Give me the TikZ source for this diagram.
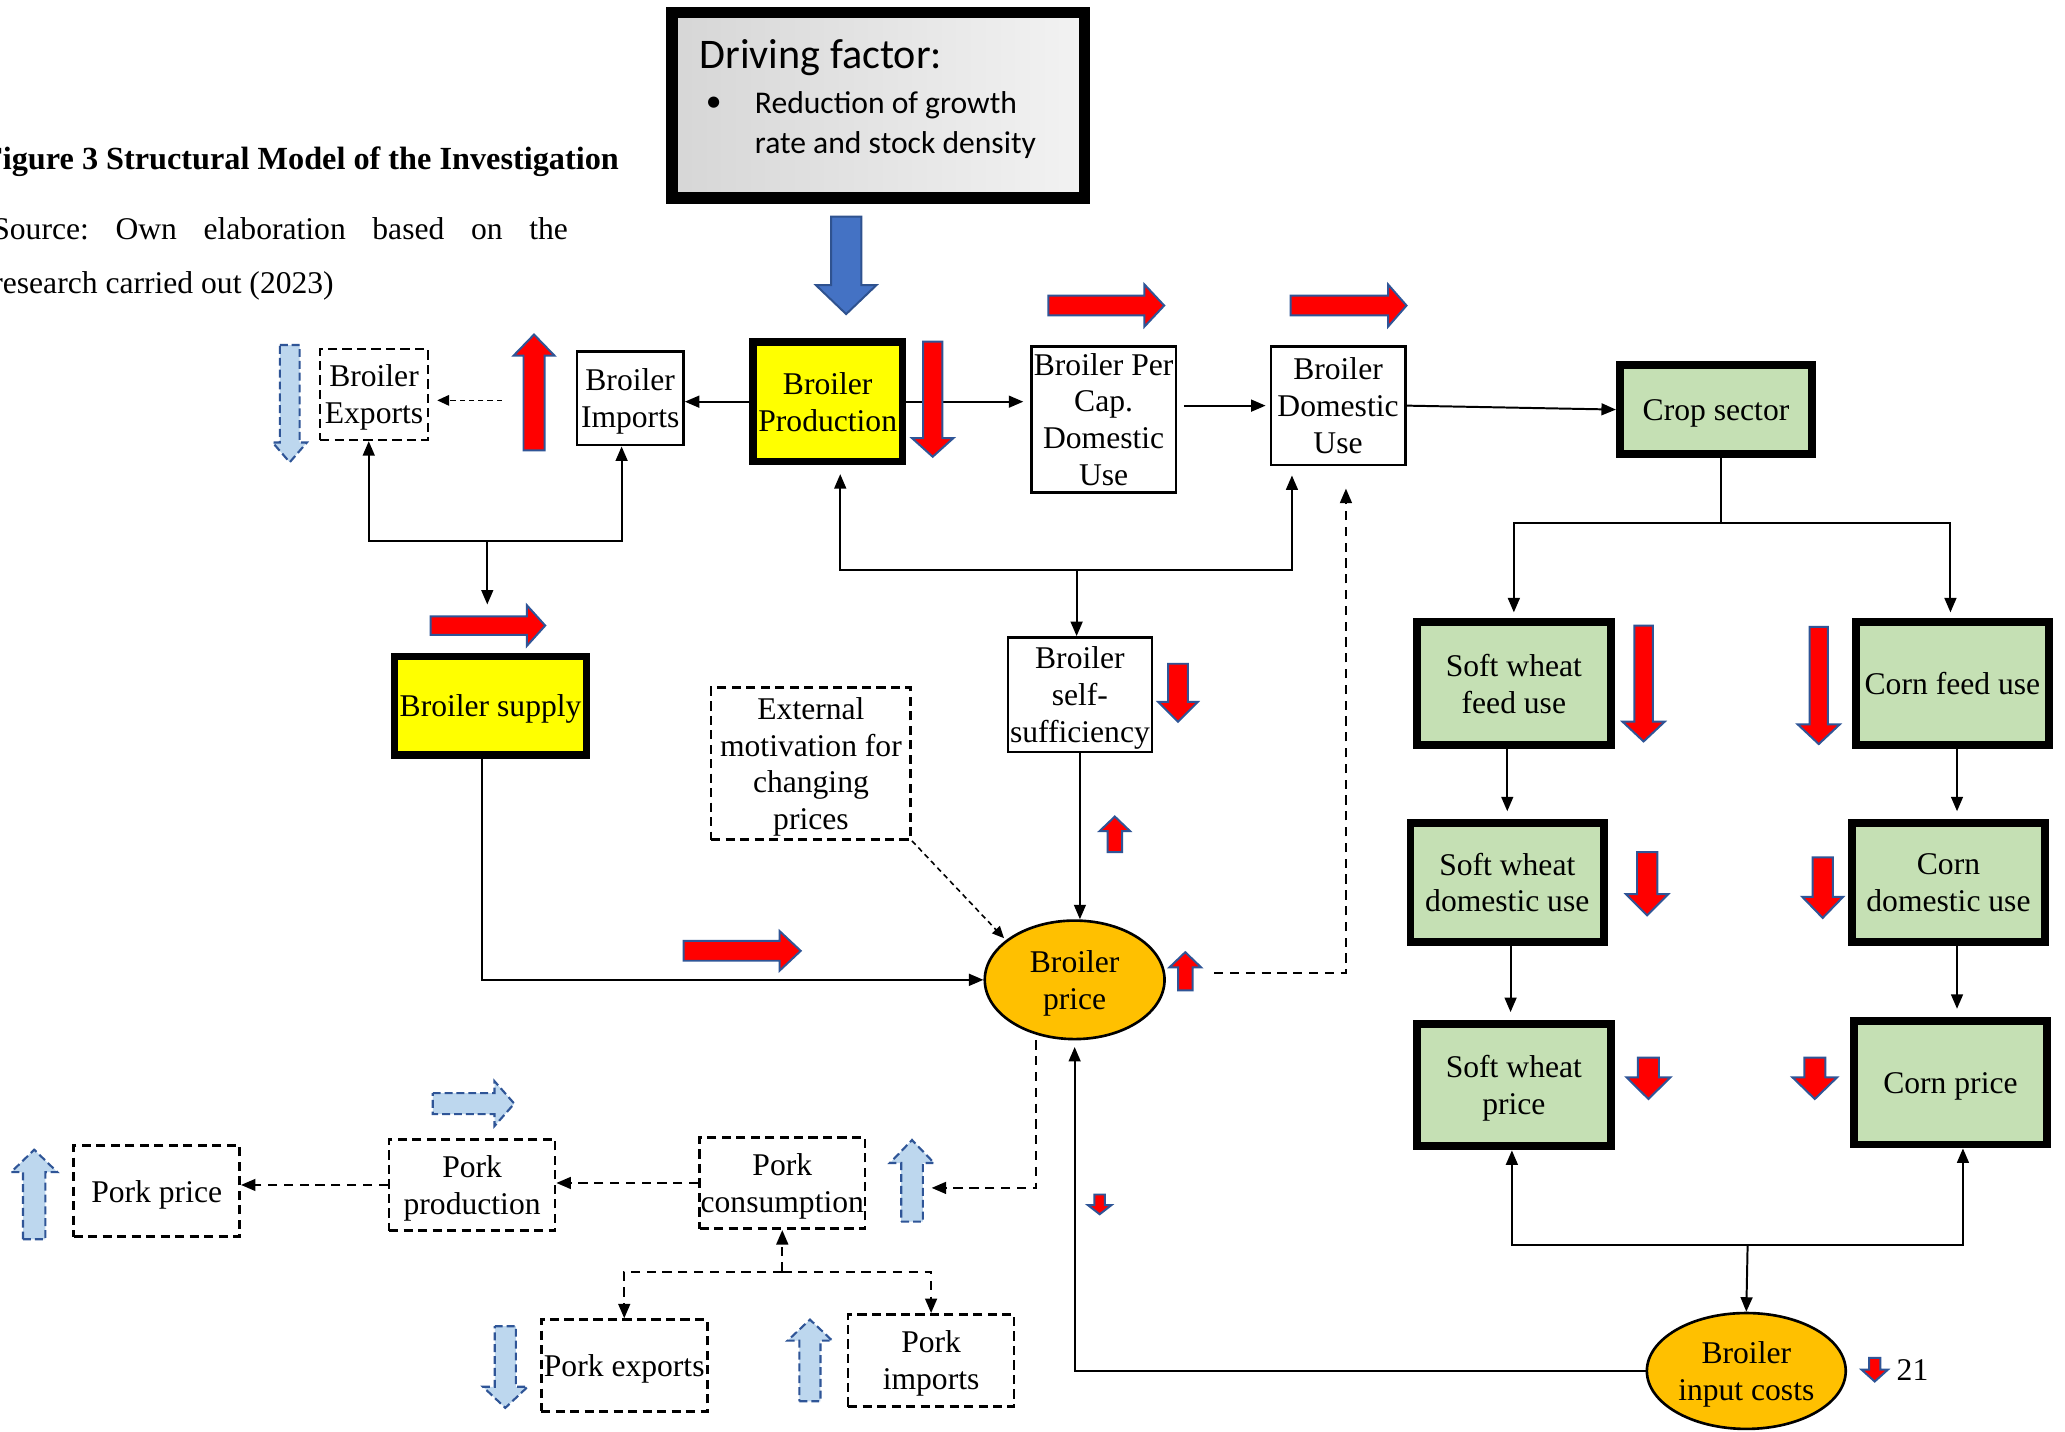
\documentclass[tikz,border=0pt]{standalone}
\usepackage{fontspec}
\setmainfont{Liberation Serif}
\newfontfamily\calib{Carlito}
\usetikzlibrary{arrows.meta,shapes.geometric,calc}
\frenchspacing
\definecolor{edgeblue}{HTML}{2F5597}
\definecolor{lightblue}{HTML}{BDD7EE}
\definecolor{blueA}{HTML}{4472C4}
\definecolor{blueEdge}{HTML}{2F528F}
\definecolor{cropgreen}{HTML}{C5E0B4}
\definecolor{orangeA}{HTML}{FFC000}
\definecolor{yellowA}{HTML}{FFFF00}
\definecolor{redA}{HTML}{FF0000}
% block arrows: style, x centre, y tail, y tip, shaft half width, head half width, head length
\newcommand{\Adown}[7]{\draw[#1] ({#2-#5},#3) -- ({#2+#5},#3) -- ({#2+#5},{#4-#7}) -- ({#2+#6},{#4-#7}) -- (#2,#4) -- ({#2-#6},{#4-#7}) -- ({#2-#5},{#4-#7}) -- cycle;}
\newcommand{\Aup}[7]{\draw[#1] ({#2-#5},#3) -- ({#2+#5},#3) -- ({#2+#5},{#4+#7}) -- ({#2+#6},{#4+#7}) -- (#2,#4) -- ({#2-#6},{#4+#7}) -- ({#2-#5},{#4+#7}) -- cycle;}
% style, y centre, x tail, x tip, shaft half width, head half width, head length
\newcommand{\Aright}[7]{\draw[#1] (#3,{#2-#5}) -- ({#4-#7},{#2-#5}) -- ({#4-#7},{#2-#6}) -- (#4,#2) -- ({#4-#7},{#2+#6}) -- ({#4-#7},{#2+#5}) -- (#3,{#2+#5}) -- cycle;}
\tikzset{
  txt/.style={font=\fontsize{24}{28}\selectfont, align=center, inner sep=0pt, text depth=0pt},
  thinbox/.style={txt, draw, line width=2pt},
  dashbox/.style={txt, draw, line width=2pt, dash pattern=on 7pt off 4pt},
  yellowbox/.style={txt, draw, line width=5.5pt, fill=yellowA},
  greenbox/.style={txt, draw, line width=6pt, fill=cropgreen},
  oval/.style={txt, ellipse, draw, line width=2pt, fill=orangeA},
  conn/.style={line width=1.5pt, -{Triangle[length=11pt,width=9pt]}},
  dconn/.style={conn, dash pattern=on 7pt off 5pt},
  dotconn/.style={line width=1.2pt, dash pattern=on 4pt off 3pt, -{Triangle[length=9pt,width=8pt]}},
  plain/.style={line width=1.5pt},
  redarr/.style={fill=redA, draw=edgeblue, line width=1.5pt, line join=miter},
  lbluearr/.style={fill=lightblue, draw=edgeblue, line width=1.6pt, dash pattern=on 6pt off 3pt},
  bluearr/.style={fill=blueA, draw=blueEdge, line width=1.5pt},
}
\begin{document}
\begin{tikzpicture}[x=1pt,y=-1pt]
\useasboundingbox (0,0) rectangle (1568,1087);
\fill[white] (0,0) rectangle (1568,1087);
\clip (0,0) rectangle (1568,1087);

% caption text
\node[anchor=base west, inner sep=0pt, font=\bfseries\fontsize{24.5}{28}\selectfont] (title) at (-13,129) {Figure 3 Structural Model of the Investigation};
\node[anchor=base west, inner sep=0pt, font=\fontsize{24}{28}\selectfont] (src1) at (-6,182) {\makebox[437pt][s]{Source: Own elaboration based on the}};
\node[anchor=base west, inner sep=0pt, font=\fontsize{24}{28}\selectfont] (src2) at (-6,223) {research carried out (2023)};

% driving factor box
\node[draw, line width=9pt, left color=black!16, right color=black!5, minimum width=313pt, minimum height=141pt, inner sep=0pt] (driving) at (667,80) {};
\node[anchor=base west, inner sep=0pt, font=\calib\fontsize{32}{38}\selectfont] (dtitle) at (531,52) {Driving factor:};
\node[inner sep=0pt, font=\calib\fontsize{24}{28}\selectfont] (dbullet) at (542,79) {\textbullet};
\node[anchor=base west, inner sep=0pt, font=\calib\fontsize{24}{28}\selectfont] (dline1) at (573,86) {Reduction of growth};
\node[anchor=base west, inner sep=0pt, font=\calib\fontsize{24}{28}\selectfont] (dline2) at (573,116.5) {rate and stock density};

% broiler nodes
\node[dashbox, minimum width=82pt, minimum height=69pt] (exports) at (284,299.5) {Broiler\\Exports};
\node[thinbox, minimum width=81pt, minimum height=71pt] (imports) at (478.5,302.5) {Broiler\\Imports};
\node[yellowbox, minimum width=113.5pt, minimum height=90.5pt] (prod) at (628.5,305) {Broiler\\Production};
\node[thinbox, minimum width=110pt, minimum height=111pt] (percap) at (838,318.5) {Broiler Per\\Cap.\\Domestic\\Use};
\node[thinbox, minimum width=102pt, minimum height=90pt] (domuse) at (1016,308) {Broiler\\Domestic\\Use};
\node[yellowbox, minimum width=145.5pt, minimum height=74.5pt] (supply) at (372.5,536) {Broiler supply};
\node[thinbox, minimum width=109.5pt, minimum height=87pt] (selfsuff) at (820,527.5) {Broiler\\self-\\sufficiency};
\node[dashbox, minimum width=151.5pt, minimum height=115.5pt] (external) at (615.75,579.75) {External\\motivation for\\changing\\prices};
\node[oval, minimum width=136.5pt, minimum height=90pt] (bprice) at (816,744) {Broiler\\price};

% crop nodes
\node[greenbox, minimum width=146pt, minimum height=68pt] (crop) at (1303,311) {Crop sector};
\node[greenbox, minimum width=147pt, minimum height=94pt] (swfeed) at (1149.5,519) {Soft wheat\\feed use};
\node[greenbox, minimum width=147pt, minimum height=94pt] (cornfeed) at (1482.5,519) {Corn feed use};
\node[greenbox, minimum width=147pt, minimum height=90pt] (swdom) at (1144.5,670) {Soft wheat\\domestic use};
\node[greenbox, minimum width=147pt, minimum height=90pt] (corndom) at (1479.5,670) {Corn\\domestic use};
\node[greenbox, minimum width=147pt, minimum height=93pt] (swprice) at (1149.5,824) {Soft wheat\\price};
\node[greenbox, minimum width=146pt, minimum height=94pt] (cornprice) at (1481,822) {Corn price};
\node[oval, minimum width=151pt, minimum height=88pt] (inputcost) at (1326,1041) {Broiler\\input costs};
\node[anchor=west, txt] (num) at (1440,1040) {21};

% pork nodes
\node[dashbox, minimum width=126pt, minimum height=69pt] (porkprice) at (119,904.5) {Pork price};
\node[dashbox, minimum width=126pt, minimum height=69.5pt] (porkprod) at (358.5,899.75) {Pork\\production};
\node[dashbox, minimum width=125.6pt, minimum height=69.5pt] (porkcons) at (594,898.25) {Pork\\consumption};
\node[dashbox, minimum width=126pt, minimum height=69.6pt] (porkexp) at (474,1036.8) {Pork exports};
\node[dashbox, minimum width=126pt, minimum height=70pt] (porkimp) at (707,1033) {Pork\\imports};

% junction coordinates
\coordinate (jexp) at (370,411);
\coordinate (supplyin) at (370,459);
\coordinate (dotstart) at (381,304);
\coordinate (jself) at (817.5,433);
\coordinate (pricedash) at (922,739);
\coordinate (jcrop) at (1307,397);
\coordinate (jcost) at (1327,945.5);
\coordinate (jpork) at (594,965.6);
\coordinate (porkin) at (707.4,902);

% connectors (broiler)
\draw[conn] (prod.west) -- (prod.west -| imports.east);
\draw[dotconn, shorten >=6pt] (dotstart) -- (exports.east |- dotstart);
\draw[conn] (jexp) -| ([xshift=-4pt]exports.south);
\draw[conn] (jexp) -| ([xshift=-6.5pt]imports.south);
\draw[conn] (jexp) -- (supplyin);
\draw[conn, shorten >=5pt] (prod.east) -- (prod.east -| percap.west);
\draw[conn, shorten <=5pt, shorten >=3pt] (percap.east |- domuse.west) -- (domuse.west);
\draw[conn] (domuse.east) -- (crop.west);
\draw[conn, shorten >=7pt] (jself) -| ([xshift=9.5pt]prod.south);
\draw[conn, shorten >=7pt] (jself) -| ([xshift=-35pt]domuse.south);
\draw[conn] (jself) -- (jself |- selfsuff.north);
\draw[conn] (selfsuff.south) -- (selfsuff.south |- bprice.north);
\draw[dotconn, shorten >=2pt] (external.south east) -- (bprice.150);
\draw[conn] ([xshift=-6.5pt]supply.south) |- (bprice.west);
\draw[dconn] (pricedash) -| ([xshift=6pt,yshift=-17pt]domuse.south);
\draw[dconn] ([xshift=-29pt]bprice.south) |- (porkin);
\draw[conn, shorten >=5pt] (inputcost.west) -| (bprice.south);

% connectors (pork)
\draw[dconn] (porkcons.west) -- (porkcons.west -| porkprod.east);
\draw[dconn] (porkprod.west) -- (porkprod.west -| porkprice.east);
\draw[dconn] (jpork) -- (porkcons.south);
\draw[dconn] (jpork) -| (porkexp.north);
\draw[dconn] (jpork) -| (porkimp.north);

% connectors (crop)
\draw[plain] (crop.south -| jcrop) -- (jcrop);
\draw[conn, shorten >=4pt] (jcrop) -| (swfeed.north);
\draw[conn, shorten >=4pt] (jcrop) -| ([xshift=-1.5pt]cornfeed.north);
\draw[conn, shorten >=6pt] (swfeed.south -| swdom.north) -- (swdom.north);
\draw[conn, shorten >=6pt] ([xshift=3.5pt]cornfeed.south) -- ([xshift=3.5pt]cornfeed.south |- corndom.north);
\draw[conn, shorten >=6pt] ([xshift=2.5pt]swdom.south) -- ([xshift=2.5pt]swdom.south |- swprice.north);
\draw[conn, shorten >=6pt] ([xshift=6.5pt]corndom.south) -- ([xshift=6.5pt]corndom.south |- cornprice.north);
\draw[conn] (jcost) -| ([xshift=-1.5pt]swprice.south);
\draw[conn] (jcost) -| ([xshift=9.5pt]cornprice.south);
\draw[conn] (jcost) -- (inputcost.north);

% block arrows
\Adown{bluearr}{642.5}{164.5}{238.5}{11.5}{23}{22}
\Aup{redarr}{405.5}{342}{254}{8}{15.5}{16}
\Adown{redarr}{708.2}{259.4}{346.8}{7.3}{15.8}{14.2}
\Aright{redarr}{232}{796}{884}{7.5}{16}{15}
\Aright{redarr}{232}{980}{1068}{7.5}{16}{14}
\Aright{redarr}{475}{327}{414}{7}{15.5}{14}
\Adown{lbluearr}{220}{262}{351}{7.5}{13}{15}
\Adown{redarr}{894.5}{504}{548}{7.5}{15}{15}
\Aup{redarr}{846.5}{647}{620}{5.5}{11.5}{11}
\Aright{redarr}{722}{519}{608}{7.5}{15}{16}
\Aup{redarr}{900}{752}{723}{5.5}{12}{11.5}
\Aright{lbluearr}{838}{328.6}{390.5}{8}{17}{15}
\Aup{lbluearr}{26}{941}{873}{8.5}{17.5}{17}
\Aup{lbluearr}{692.5}{927.6}{865.6}{8.2}{16.8}{17.5}
\Adown{redarr}{835}{907}{922}{4}{9}{7}
\Adown{lbluearr}{383.7}{1007}{1069}{8}{17}{16}
\Aup{lbluearr}{615}{1064}{1002}{8}{17}{16}
\Adown{redarr}{1248}{475}{563}{7}{16}{15}
\Adown{redarr}{1381}{476}{565}{7}{16}{15}
\Adown{redarr}{1250.7}{647}{695}{7.7}{16}{16}
\Adown{redarr}{1384}{651}{697}{7.7}{15.5}{16}
\Adown{redarr}{1251.7}{803}{834.5}{8}{16.7}{16.5}
\Adown{redarr}{1378}{803}{834.5}{8}{17}{16.5}
\Adown{redarr}{1423.5}{1031}{1049}{4.3}{10}{9}
\end{tikzpicture}
\end{document}
